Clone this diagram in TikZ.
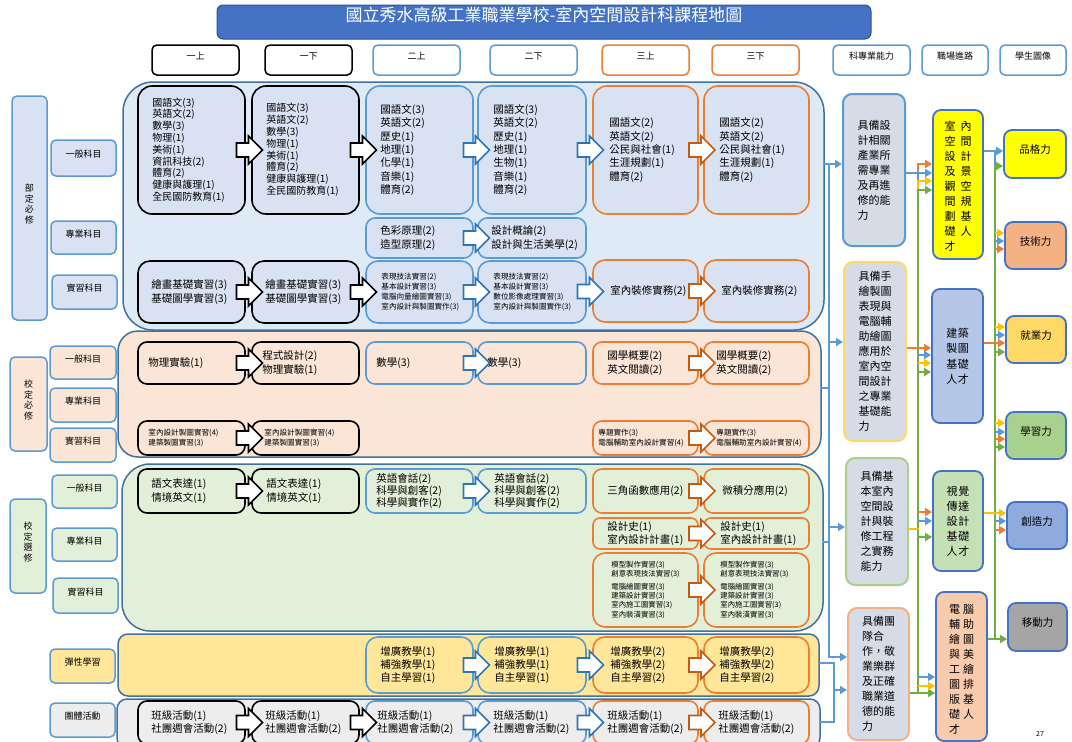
\documentclass[tikz,border=0pt]{standalone}
\usepackage{fontspec}
\setmainfont{Noto Sans CJK TC}
\usetikzlibrary{calc,fit,arrows.meta}
\definecolor{tblue}{HTML}{4472C4}
\definecolor{tbluedk}{HTML}{2F5597}
\definecolor{lblue}{HTML}{5B9BD5}
\definecolor{ablue}{HTML}{2E75B6}
\definecolor{cont}{HTML}{41719C}
\definecolor{orng}{HTML}{ED7D31}
\definecolor{aorng}{HTML}{C55A11}
\definecolor{ylw}{HTML}{FFC000}
\definecolor{grn}{HTML}{70AD47}
\definecolor{bgblue}{HTML}{DEEBF7}
\definecolor{boxblue}{HTML}{D9E2F3}
\definecolor{bgpeach}{HTML}{FBE5D6}
\definecolor{bggreen}{HTML}{E2F0D9}
\definecolor{bggold}{HTML}{FFE699}
\definecolor{bggray}{HTML}{EDEDED}
\definecolor{capfill}{HTML}{D6DCE5}
\definecolor{capy}{HTML}{FFD966}
\definecolor{capg}{HTML}{A9D18E}
\definecolor{capo}{HTML}{F4B183}
\definecolor{cary}{HTML}{FFFF00}
\definecolor{carb}{HTML}{B4C7E7}
\definecolor{carg}{HTML}{C5E0B4}
\definecolor{caro}{HTML}{F8CBAD}
\definecolor{imb}{HTML}{8FAADC}
\definecolor{imgray}{HTML}{A5A5A5}
\newcommand{\fntA}{\fontsize{10}{11.8}\selectfont}
\newcommand{\fntB}{\fontsize{10.5}{13.3}\selectfont}
\newcommand{\fntC}{\fontsize{7.6}{10}\selectfont}
\newcommand{\fntD}{\fontsize{7.4}{9.3}\selectfont}
\newcommand{\fntE}{\fontsize{10.5}{12.3}\selectfont}
\newcommand{\fntH}{\fontsize{9}{10}\selectfont}
\newcommand{\fntV}{\fontsize{9}{10.5}\selectfont}
\newcommand{\fntK}{\fontsize{11}{15}\selectfont}
\newcommand{\twoc}[3][5pt]{#2\hspace{#1}#3}
\newcommand{\mkbox}[6]{\node[#6, fit={(#2,#3) (#4,#5)}, inner sep=0pt] (#1) {};}
\newcommand{\mktxt}[4]{\node[anchor=west, align=left, inner sep=0pt, font=#3] at ([xshift=#2pt]#1.west) {#4};}
\newcommand{\barr}[3]{\coordinate (bam) at ($(#1.east)!0.5!(#2.west)$);
  \draw[draw=#3, fill=white, line width=1.6pt] ($(bam)+(-12,-7)$) -- ++(12,0) -- ++(0,-7) -- ++(14,14) -- ++(-14,14) -- ++(0,-7) -- ++(-12,0) -- cycle;}
\tikzset{
  contbox/.style={line width=1.5pt, draw=cont},
  labbox/.style={draw=lblue, line width=1.5pt, rounded corners=5pt},
  hdrbox/.style={fill=white, line width=1.5pt, rounded corners=5pt, font=\fntH},
  crsbox/.style={line width=1.6pt, rounded corners=9pt},
  kblk/.style={crsbox, draw=black},
  kblu/.style={crsbox, draw=lblue},
  korg/.style={crsbox, draw=orng},
  capbox/.style={fill=capfill, line width=2pt, rounded corners=9pt},
  carbox/.style={draw=tblue, line width=1.8pt, rounded corners=8pt},
  imgbox/.style={draw=tblue, line width=1.8pt, rounded corners=8pt, font=\fontsize{10.5}{12}\selectfont},
  con/.style={line width=2.5pt, line cap=rect},
  arr/.style={-{Triangle[length=7pt,width=8pt]}, line cap=butt},
}
\begin{document}
\begin{tikzpicture}[x=1pt,y=-1pt]
\useasboundingbox (0,0) rectangle (1072,742);
\fill[white] (0,0) rectangle (1072,742);
% title
\node[fill=tblue, draw=tbluedk, line width=1pt, rounded corners=6pt, fit={(217,5) (871,39)}, inner sep=0pt, text=white, font=\fontsize{17}{20}\selectfont] (title) {國立秀水高級工業職業學校-室內空間設計科課程地圖};
% headers
\node[hdrbox, draw=black, fit={(152,45) (239,75)}, inner sep=0pt] (hd1) {一上};
\node[hdrbox, draw=black, fit={(265,45) (352,75)}, inner sep=0pt] (hd2) {一下};
\node[hdrbox, draw=lblue, fit={(373,45) (460,75)}, inner sep=0pt] (hd3) {二上};
\node[hdrbox, draw=lblue, fit={(490,45) (577,75)}, inner sep=0pt] (hd4) {二下};
\node[hdrbox, draw=orng, fit={(602,45) (689,75)}, inner sep=0pt] (hd5) {三上};
\node[hdrbox, draw=orng, fit={(712,45) (799,75)}, inner sep=0pt] (hd6) {三下};
\node[hdrbox, draw=lblue, fit={(833,45) (910,75)}, inner sep=0pt] (hd7) {科專業能力};
\node[hdrbox, draw=lblue, fit={(922,45) (988,75)}, inner sep=0pt] (hd8) {職場進路};
\node[hdrbox, draw=lblue, fit={(1000,45) (1066,75)}, inner sep=0pt] (hd9) {學生圖像};
% left labels
\node[labbox, fill=boxblue, fit={(12,96) (47,320)}, inner sep=0pt, align=center, font=\fntV] (Lbu) {部\\定\\必\\修};
\node[labbox, fill=boxblue, fit={(51,140) (116,176)}, inner sep=0pt, font=\fntH] (Lbu1) {一般科目};
\node[labbox, fill=boxblue, fit={(51,221) (116,254)}, inner sep=0pt, font=\fntH] (Lbu2) {專業科目};
\node[labbox, fill=boxblue, fit={(52,275) (117,309)}, inner sep=0pt, font=\fntH] (Lbu3) {實習科目};
\node[labbox, fill=bgpeach, fit={(10,357) (47,451)}, inner sep=0pt, align=center, font=\fntV] (Lxb) {校\\定\\必\\修};
\node[labbox, fill=bgpeach, fit={(50,346) (116,379)}, inner sep=0pt, font=\fntH] (Lxb1) {一般科目};
\node[labbox, fill=bgpeach, fit={(50,388) (116,422)}, inner sep=0pt, font=\fntH] (Lxb2) {專業科目};
\node[labbox, fill=bgpeach, fit={(50,428) (116,462)}, inner sep=0pt, font=\fntH] (Lxb3) {實習科目};
\node[labbox, fill=bggreen, fit={(10,499) (46,593)}, inner sep=0pt, align=center, font=\fntV] (Lxx) {校\\定\\選\\修};
\node[labbox, fill=bggreen, fit={(52,475) (117,508)}, inner sep=0pt, font=\fntH] (Lxx1) {一般科目};
\node[labbox, fill=bggreen, fit={(52,528) (117,561)}, inner sep=0pt, font=\fntH] (Lxx2) {專業科目};
\node[labbox, fill=bggreen, fit={(53,578) (118,613)}, inner sep=0pt, font=\fntH] (Lxx3) {實習科目};
\node[labbox, fill=bggold, fit={(50,649) (115,683)}, inner sep=0pt, font=\fntH] (Ltx) {彈性學習};
\node[labbox, fill=bggray, fit={(50,703) (115,737)}, inner sep=0pt, font=\fntH] (Ltt) {團體活動};
% containers
\node[contbox, fill=bgblue, rounded corners=30pt, fit={(123,82) (824,330)}, inner sep=0pt] (R1) {};
\node[contbox, fill=bgpeach, rounded corners=20pt, fit={(118,331) (821,457)}, inner sep=0pt] (R2) {};
\node[contbox, fill=bggreen, rounded corners=28pt, fit={(122,464) (823,631)}, inner sep=0pt] (R3) {};
\node[contbox, fill=bggold, rounded corners=10pt, fit={(118,634) (819,696)}, inner sep=0pt] (R4) {};
\node[contbox, fill=bggray, rounded corners=10pt, fit={(117,699) (820,748)}, inner sep=0pt] (R5) {};
% row 1 general
\mkbox{g11}{138}{86}{245}{214}{kblk, fill=boxblue, rounded corners=14pt}
\mkbox{g12}{252}{86}{359}{214}{kblk, fill=boxblue, rounded corners=14pt}
\mkbox{g13}{366}{86}{473}{214}{kblu, fill=boxblue, rounded corners=14pt}
\mkbox{g14}{478}{86}{586}{214}{kblu, fill=boxblue, rounded corners=14pt}
\mkbox{g15}{593}{86}{698}{214}{korg, fill=boxblue, rounded corners=14pt}
\mkbox{g16}{704}{86}{809}{214}{korg, fill=boxblue, rounded corners=14pt}
\mktxt{g11}{15}{\fntA}{國語文(3)\\英語文(2)\\數學(3)\\物理(1)\\美術(1)\\資訊科技(2)\\體育(2)\\健康與護理(1)\\全民國防教育(1)}
\mktxt{g12}{15}{\fntA}{國語文(3)\\英語文(2)\\數學(3)\\物理(1)\\美術(1)\\體育(2)\\健康與護理(1)\\全民國防教育(1)}
\mktxt{g13}{15}{\fntB}{國語文(3)\\英語文(2)\\歷史(1)\\地理(1)\\化學(1)\\音樂(1)\\體育(2)}
\mktxt{g14}{16}{\fntB}{國語文(3)\\英語文(2)\\歷史(1)\\地理(1)\\生物(1)\\音樂(1)\\體育(2)}
\mktxt{g15}{17}{\fntB}{國語文(2)\\英語文(2)\\公民與社會(1)\\生涯規劃(1)\\體育(2)}
\mktxt{g16}{16}{\fntB}{國語文(2)\\英語文(2)\\公民與社會(1)\\生涯規劃(1)\\體育(2)}
% row 1 specialty
\mkbox{s13}{366}{218}{473}{258}{kblu, fill=boxblue}
\mkbox{s14}{478}{218}{586}{258}{kblu, fill=boxblue}
\mktxt{s13}{15}{\fntB}{色彩原理(2)\\造型原理(2)}
\mktxt{s14}{14}{\fntB}{設計概論(2)\\設計與生活美學(2)}
% row 1 practical
\mkbox{p11}{138}{261}{245}{323}{kblk, fill=boxblue, rounded corners=12pt}
\mkbox{p12}{252}{261}{359}{323}{kblk, fill=boxblue, rounded corners=12pt}
\mkbox{p13}{366}{261}{473}{323}{kblu, fill=boxblue, rounded corners=12pt}
\mkbox{p14}{478}{261}{586}{323}{kblu, fill=boxblue, rounded corners=12pt}
\mkbox{p15}{593}{260}{698}{322}{korg, fill=boxblue, rounded corners=12pt}
\mkbox{p16}{704}{260}{809}{322}{korg, fill=boxblue, rounded corners=12pt}
\mktxt{p11}{14}{\fntB}{繪畫基礎實習(3)\\基礎圖學實習(3)}
\mktxt{p12}{14}{\fntB}{繪畫基礎實習(3)\\基礎圖學實習(3)}
\mktxt{p13}{16}{\fntC}{表現技法實習(2)\\基本設計實習(3)\\電腦向量繪圖實習(3)\\室內設計與製圖實作(3)}
\mktxt{p14}{16}{\fntC}{表現技法實習(2)\\基本設計實習(3)\\數位影像處理實習(3)\\室內設計與製圖實作(3)}
\mktxt{p15}{18}{\fntB}{室內裝修實務(2)}
\mktxt{p16}{18}{\fntB}{室內裝修實務(2)}
% row 2 general
\mkbox{h21}{138}{342}{245}{384}{kblk, fill=bgpeach}
\mkbox{h22}{252}{342}{359}{384}{kblk, fill=bgpeach}
\mkbox{h23}{366}{342}{473}{384}{kblu, fill=bgpeach}
\mkbox{h24}{478}{342}{586}{384}{kblu, fill=bgpeach}
\mkbox{h25}{593}{342}{698}{384}{korg, fill=bgpeach}
\mkbox{h26}{704}{342}{809}{384}{korg, fill=bgpeach}
\mktxt{h21}{11}{\fntB}{物理實驗(1)}
\mktxt{h22}{11}{\fntB}{程式設計(2)\\物理實驗(1)}
\mktxt{h23}{11}{\fntB}{數學(3)}
\mktxt{h24}{10}{\fntB}{數學(3)}
\mktxt{h25}{15}{\fntB}{國學概要(2)\\英文閱讀(2)}
\mktxt{h26}{13}{\fntB}{國學概要(2)\\英文閱讀(2)}
% row 2 practical
\mkbox{q21}{138}{421}{245}{455}{kblk, fill=bgpeach}
\mkbox{q22}{252}{421}{359}{455}{kblk, fill=bgpeach}
\mkbox{q25}{593}{421}{698}{455}{korg, fill=bgpeach}
\mkbox{q26}{704}{421}{809}{455}{korg, fill=bgpeach}
\mktxt{q21}{11}{\fntC}{室內設計製圖實習(4)\\建築製圖實習(3)}
\mktxt{q22}{13}{\fntC}{室內設計製圖實習(4)\\建築製圖實習(3)}
\mktxt{q25}{6}{\fntC}{專題實作(3)\\電腦輔助室內設計實習(4)}
\mktxt{q26}{13}{\fntC}{專題實作(3)\\電腦輔助室內設計實習(4)}
% row 3 general
\mkbox{e31}{138}{469}{245}{513}{kblk, fill=bggreen}
\mkbox{e32}{252}{469}{359}{513}{kblk, fill=bggreen}
\mkbox{e33}{366}{469}{473}{513}{kblu, fill=bggreen}
\mkbox{e34}{478}{469}{586}{513}{kblu, fill=bggreen}
\mkbox{e35}{593}{469}{698}{513}{korg, fill=bggreen}
\mkbox{e36}{704}{469}{809}{513}{korg, fill=bggreen}
\mktxt{e31}{14}{\fntB}{語文表達(1)\\情境英文(1)}
\mktxt{e32}{15}{\fntB}{語文表達(1)\\情境英文(1)}
\mktxt{e33}{11}{\fntE}{英語會話(2)\\科學與創客(2)\\科學與實作(2)}
\mktxt{e34}{17}{\fntE}{英語會話(2)\\科學與創客(2)\\科學與實作(2)}
\mktxt{e35}{15}{\fntB}{三角函數應用(2)}
\mktxt{e36}{19}{\fntB}{微積分應用(2)}
% row 3 specialty
\mkbox{t35}{593}{518}{698}{549}{korg, fill=bggreen, rounded corners=7pt}
\mkbox{t36}{704}{518}{809}{549}{korg, fill=bggreen, rounded corners=7pt}
\mktxt{t35}{15}{\fntB}{設計史(1)\\室內設計計畫(1)}
\mktxt{t36}{17}{\fntB}{設計史(1)\\室內設計計畫(1)}
% row 3 practical
\mkbox{u35}{593}{553}{698}{627}{korg, fill=bggreen, rounded corners=12pt}
\mkbox{u36}{704}{553}{809}{627}{korg, fill=bggreen, rounded corners=12pt}
\mktxt{u35}{19}{\fntD}{模型製作實習(3)\\創意表現技法實習(3)\\[3pt]電腦繪圖實習(3)\\建築設計實習(3)\\室內施工圖實習(3)\\室內裝潢實習(3)}
\mktxt{u36}{17}{\fntD}{模型製作實習(3)\\創意表現技法實習(3)\\[3pt]電腦繪圖實習(3)\\建築設計實習(3)\\室內施工圖實習(3)\\室內裝潢實習(3)}
% row 4
\mkbox{f43}{366}{637}{473}{693}{kblu, fill=bggold, rounded corners=12pt}
\mkbox{f44}{478}{637}{586}{693}{kblu, fill=bggold, rounded corners=12pt}
\mkbox{f45}{593}{637}{698}{693}{korg, fill=bggold, rounded corners=12pt}
\mkbox{f46}{704}{637}{809}{693}{korg, fill=bggold, rounded corners=12pt}
\mktxt{f43}{15}{\fntB}{增廣教學(1)\\補強教學(1)\\自主學習(1)}
\mktxt{f44}{17}{\fntB}{增廣教學(1)\\補強教學(1)\\自主學習(1)}
\mktxt{f45}{18}{\fntB}{增廣教學(2)\\補強教學(2)\\自主學習(2)}
\mktxt{f46}{16}{\fntB}{增廣教學(2)\\補強教學(2)\\自主學習(2)}
% row 5
\mkbox{k51}{138}{701}{245}{744}{kblk, fill=bggray}
\mkbox{k52}{252}{701}{359}{744}{kblk, fill=bggray}
\mkbox{k53}{366}{701}{473}{744}{kblu, fill=bggray}
\mkbox{k54}{478}{701}{586}{744}{kblu, fill=bggray}
\mkbox{k55}{593}{701}{698}{744}{korg, fill=bggray}
\mkbox{k56}{704}{701}{809}{744}{korg, fill=bggray}
\mktxt{k51}{14}{\fntB}{班級活動(1)\\社團週會活動(2)}
\mktxt{k52}{14}{\fntB}{班級活動(1)\\社團週會活動(2)}
\mktxt{k53}{12}{\fntB}{班級活動(1)\\社團週會活動(2)}
\mktxt{k54}{16}{\fntB}{班級活動(1)\\社團週會活動(2)}
\mktxt{k55}{15}{\fntB}{班級活動(1)\\社團週會活動(2)}
\mktxt{k56}{15}{\fntB}{班級活動(1)\\社團週會活動(2)}
% block arrows
\barr{g11}{g12}{black}\barr{g12}{g13}{black}\barr{g13}{g14}{ablue}\barr{g14}{g15}{ablue}\barr{g15}{g16}{aorng}
\barr{s13}{s14}{ablue}
\barr{p11}{p12}{black}\barr{p12}{p13}{black}\barr{p13}{p14}{ablue}\barr{p14}{p15}{ablue}\barr{p15}{p16}{aorng}
\barr{h21}{h22}{black}\barr{h23}{h24}{ablue}\barr{h25}{h26}{aorng}
\barr{q21}{q22}{black}\barr{q25}{q26}{aorng}
\barr{e31}{e32}{black}\barr{e33}{e34}{ablue}\barr{e35}{e36}{aorng}
\barr{t35}{t36}{aorng}
\barr{u35}{u36}{aorng}
\barr{f43}{f44}{ablue}\barr{f44}{f45}{ablue}\barr{f45}{f46}{aorng}
\barr{k51}{k52}{black}\barr{k52}{k53}{black}\barr{k53}{k54}{ablue}\barr{k54}{k55}{ablue}\barr{k55}{k56}{aorng}
% capability boxes
\node[capbox, draw=lblue, fit={(843,94) (905,246)}, inner sep=0pt] (A1) {};
\node[capbox, draw=capy, fit={(844,262) (906,441)}, inner sep=0pt] (A2) {};
\node[capbox, draw=capg, fit={(846,458) (908,585)}, inner sep=0pt] (A3) {};
\node[capbox, draw=capo, fit={(848,608) (909,740)}, inner sep=0pt] (A4) {};
\node[align=left, font=\fntK] at (A1.center) {具備設\\計相關\\產業所\\需專業\\及再進\\修的能\\力};
\node[align=left, font=\fntK] at (A2.center) {具備手\\繪製圖\\表現與\\電腦輔\\助繪圖\\應用於\\室內空\\間設計\\之專業\\基礎能\\力};
\node[align=left, font=\fntK] at (A3.center) {具備基\\本室內\\空間設\\計與裝\\修工程\\之實務\\能力};
\node[align=left, font=\fntK] at (A4.center) {具備團\\隊合\\作，敬\\業樂群\\及正確\\職業道\\德的能\\力};
% career boxes
\node[carbox, fill=cary, fit={(933,110) (983,259)}, inner sep=0pt] (B1) {};
\node[carbox, fill=carb, fit={(932,289) (983,423)}, inner sep=0pt] (B2) {};
\node[carbox, fill=carg, fit={(933,471) (983,571)}, inner sep=0pt] (B3) {};
\node[carbox, fill=caro, fit={(936,592) (987,741)}, inner sep=0pt] (B4) {};
\node[align=left, font=\fontsize{11}{15}\selectfont] at ([yshift=-1.5pt]B1.center) {\twoc{室}{內}\\\twoc{空}{間}\\\twoc{設}{計}\\\twoc{及}{景}\\\twoc{觀}{空}\\\twoc{間}{規}\\\twoc{劃}{基}\\\twoc{礎}{人}\\才};
\node[align=left, font=\fontsize{11}{15.5}\selectfont] at (B2.center) {\twoc[0.5pt]{建}{築}\\\twoc[0.5pt]{製}{圖}\\\twoc[0.5pt]{基}{礎}\\\twoc[0.5pt]{人}{才}};
\node[align=left, font=\fontsize{11}{15}\selectfont] at (B3.center) {\twoc[1pt]{視}{覺}\\\twoc[1pt]{傳}{達}\\\twoc[1pt]{設}{計}\\\twoc[1pt]{基}{礎}\\\twoc[1pt]{人}{才}};
\node[align=left, font=\fontsize{11}{15}\selectfont] at ([yshift=-3pt]B4.center) {\twoc[3pt]{電}{腦}\\\twoc[3pt]{輔}{助}\\\twoc[3pt]{繪}{圖}\\\twoc[3pt]{與}{美}\\\twoc[3pt]{工}{繪}\\\twoc[3pt]{圖}{排}\\\twoc[3pt]{版}{基}\\\twoc[3pt]{礎}{人}\\才};
% student image boxes
\node[imgbox, fill=cary, fit={(1004,130) (1066,178)}, inner sep=0pt] (C1) {品格力};
\node[imgbox, fill=capo, fit={(1005,222) (1066,269)}, inner sep=0pt] (C2) {技術力};
\node[imgbox, fill=capy, fit={(1006,316) (1066,363)}, inner sep=0pt] (C3) {就業力};
\node[imgbox, fill=capg, fit={(1006,412) (1066,459)}, inner sep=0pt] (C4) {學習力};
\node[imgbox, fill=imb, fit={(1007,502) (1067,549)}, inner sep=0pt] (C5) {創造力};
\node[imgbox, fill=imgray, fit={(1008,603) (1067,651)}, inner sep=0pt] (C6) {移動力};
\node[font=\fontsize{7}{8}\selectfont] (pg) at (1040,734) {27};
% blue bus from the course rows to the capabilities
\coordinate (b1a) at (829,164);
\coordinate (b1b) at (829,342);
\coordinate (b1c) at (829,388);
\coordinate (b1d) at (829,527);
\coordinate (b1e) at (829,542);
\coordinate (b1f) at (829,657);
\draw[con, lblue] (R1.east |- b1a) -- (b1a) -- (b1f);
\draw[con, lblue, arr] (b1a) -- (A1.west |- b1a);
\draw[con, lblue, arr] (b1b) -- (A2.west |- b1b);
\draw[con, lblue] (R2.east |- b1c) -- (b1c);
\draw[con, lblue, arr] (b1d) -- (A3.west |- b1d);
\draw[con, lblue] (R3.east |- b1e) -- (b1e);
\draw[con, lblue, arr] (b1f) -- (A4.west |- b1f);
\coordinate (b2a) at (834,663);
\coordinate (b2b) at (834,690);
\coordinate (b2c) at (834,722);
\draw[con, lblue] (R4.east |- b2a) -- (b2a) -- (b2c) -- (R5.east |- b2c);
\draw[con, lblue, arr] (b2b) -- (A4.west |- b2b);
% capabilities -> careers
\coordinate (vo1) at (918,164); \coordinate (vo2) at (918,512); \coordinate (vo3) at (918,348);
\coordinate (vb1) at (918,173); \coordinate (vb2) at (918,355); \coordinate (vb3) at (918,521); \coordinate (vb4) at (918,677);
\coordinate (vy1) at (918,181); \coordinate (vy2) at (918,363); \coordinate (vy3) at (918,529); \coordinate (vy4) at (918,686);
\coordinate (vg1) at (918,190); \coordinate (vg2) at (918,372); \coordinate (vg3) at (918,537); \coordinate (vg4) at (918,693);
\draw[con, orng] (vo1) -- (vo2);
\draw[con, lblue] (vb1) -- (vb4);
\draw[con, ylw] (vy1) -- (vy4);
\draw[con, grn] (vg1) -- (vg4);
\draw[con, lblue, arr] (A1.east |- vb1) -- (B1.west |- vb1);
\draw[con, orng, arr] (A2.east |- vo3) -- (B2.west |- vo3);
\draw[con, ylw] (A3.east |- vy3) -- (vy3);
\draw[con, grn, arr] (A4.east |- vg4) -- (B4.west |- vg4);
\draw[con, orng, arr] (vo1) -- (B1.west |- vo1);
\draw[con, ylw, arr] (vy1) -- (B1.west |- vy1);
\draw[con, grn, arr] (vg1) -- (B1.west |- vg1);
\draw[con, lblue, arr] (vb2) -- (B2.west |- vb2);
\draw[con, ylw, arr] (vy2) -- (B2.west |- vy2);
\draw[con, grn, arr] (vg2) -- (B2.west |- vg2);
\draw[con, orng, arr] (vo2) -- (B3.west |- vo2);
\draw[con, lblue, arr] (vb3) -- (B3.west |- vb3);
\draw[con, grn, arr] (vg3) -- (B3.west |- vg3);
\draw[con, lblue, arr] (vb4) -- (B4.west |- vb4);
\draw[con, ylw, arr] (vy4) -- (B4.west |- vy4);
% careers -> student images
\coordinate (wb1) at (995,151); \coordinate (wb2) at (995,241); \coordinate (wb3) at (995,335); \coordinate (wb4) at (995,432); \coordinate (wb5) at (995,521);
\coordinate (wo1) at (995,249); \coordinate (wo2) at (995,343); \coordinate (wo3) at (995,439); \coordinate (wo4) at (995,530);
\coordinate (wy1) at (995,233); \coordinate (wy2) at (995,327); \coordinate (wy3) at (995,423); \coordinate (wy4) at (995,513);
\coordinate (wg1) at (995,166); \coordinate (wg2) at (995,352); \coordinate (wg3) at (995,447); \coordinate (wg4) at (995,639);
\draw[con, lblue] (wb1) -- (wb5);
\draw[con, orng] (wo1) -- (wo4);
\draw[con, ylw] (wy1) -- (wy4);
\draw[con, grn] (wg1) -- (wg4);
\draw[con, lblue, arr] (B1.east |- wb1) -- (C1.west |- wb1);
\draw[con, orng, arr] (B2.east |- wo2) -- (C3.west |- wo2);
\draw[con, ylw, arr] (B3.east |- wy4) -- (C5.west |- wy4);
\draw[con, grn, arr] (B4.east |- wg4) -- (C6.west |- wg4);
\draw[con, grn, arr] (wg1) -- (C1.west |- wg1);
\draw[con, ylw, arr] (wy1) -- (C2.west |- wy1);
\draw[con, lblue, arr] (wb2) -- (C2.west |- wb2);
\draw[con, orng, arr] (wo1) -- (C2.west |- wo1);
\draw[con, ylw, arr] (wy2) -- (C3.west |- wy2);
\draw[con, lblue, arr] (wb3) -- (C3.west |- wb3);
\draw[con, grn, arr] (wg2) -- (C3.west |- wg2);
\draw[con, ylw, arr] (wy3) -- (C4.west |- wy3);
\draw[con, lblue, arr] (wb4) -- (C4.west |- wb4);
\draw[con, orng, arr] (wo3) -- (C4.west |- wo3);
\draw[con, grn, arr] (wg3) -- (C4.west |- wg3);
\draw[con, lblue, arr] (wb5) -- (C5.west |- wb5);
\draw[con, orng, arr] (wo4) -- (C5.west |- wo4);
\end{tikzpicture}
\end{document}
